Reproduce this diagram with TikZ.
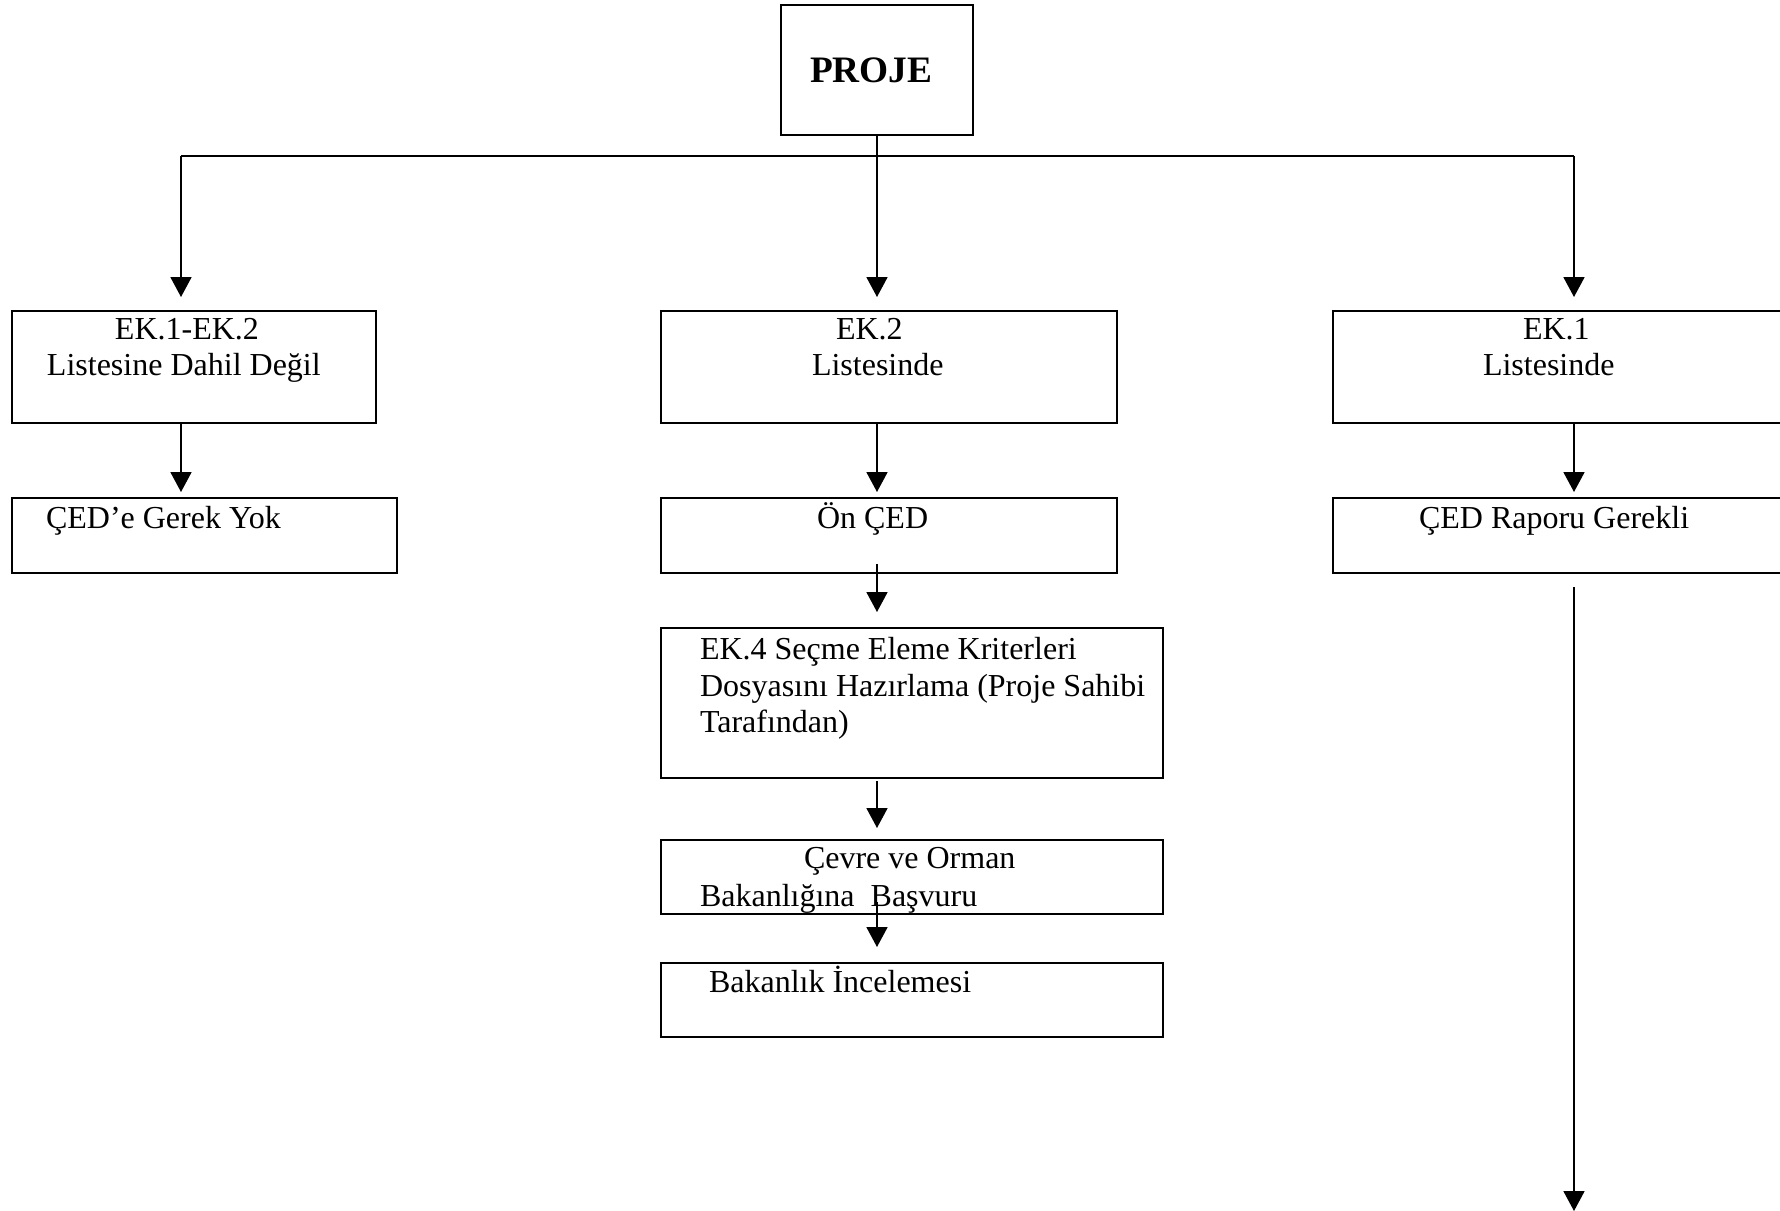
\documentclass[tikz,border=0pt]{standalone}
\usepackage{fontspec}
\setmainfont{Liberation Serif}
\usetikzlibrary{arrows.meta,fit}
\begin{document}
\begin{tikzpicture}[x=0.375pt,y=-0.375pt,
  box/.style={draw,line width=0.8pt,inner sep=0pt,outer sep=0pt},
  txt/.style={inner sep=0pt,outer sep=0pt,anchor=base west,font=\fontsize{12}{13.8}\selectfont},
  conn/.style={line width=0.6pt},
  arr/.style={line width=0.6pt,-{Triangle[width=7.9pt,length=7.5pt]}}]
\useasboundingbox (0,0) rectangle (1780,1211);
\clip (0,0) rectangle (1780,1211);
% boxes
\node[box,fit={(781,5) (973,135)}] (proje) {};
\node[box,fit={(12,311) (376,423)}] (l1) {};
\node[box,fit={(12,498) (397,573)}] (l2) {};
\node[box,fit={(661,311) (1117,423)}] (m1) {};
\node[box,fit={(661,498) (1117,573)}] (m2) {};
\node[box,fit={(661,628) (1163,778)}] (m3) {};
\node[box,fit={(661,840) (1163,914)}] (m4) {};
\node[box,fit={(661,963) (1163,1037)}] (m5) {};
\node[box,fit={(1333,311) (1795,423)}] (r1) {};
\node[box,fit={(1333,498) (1795,573)}] (r2) {};
% texts
\node[txt,font=\fontsize{14}{16}\selectfont\bfseries] (tproje) at (810,82) {PROJE};
\node[txt] (tl1a) at (115,339) {EK.1-EK.2};
\node[txt] (tl1b) at (47,375) {Listesine Dahil Değil};
\node[txt] (tl2) at (46,528) {ÇED’e Gerek Yok};
\node[txt] (tm1a) at (836,339) {EK.2};
\node[txt] (tm1b) at (812,375) {Listesinde};
\node[txt] (tm2) at (817,528) {Ön ÇED};
\node[txt] (tm3a) at (700,659) {EK.4 Seçme Eleme Kriterleri};
\node[txt] (tm3b) at (700,696) {Dosyasını Hazırlama (Proje Sahibi};
\node[txt] (tm3c) at (700,732) {Tarafından)};
\node[txt] (tm4a) at (804,868) {Çevre ve Orman};
\node[txt] (tm4b) at (700,906) {Bakanlığına\ \ Başvuru};
\node[txt] (tm5) at (709,992) {Bakanlık İncelemesi};
\node[txt] (tr1a) at (1523,339) {EK.1};
\node[txt] (tr1b) at (1483,375) {Listesinde};
\node[txt] (tr2) at (1419,528) {ÇED Raporu Gerekli};
% connector coordinates
\coordinate (cl) at (181,156);
\coordinate (cr) at (1574,156);
\coordinate (cm) at (877,156);
\coordinate (rend) at (1574,1211);
% connectors
\draw[conn] (cl) -- (cr);
\draw[arr,shorten >=5.25pt] (proje.south) -- (m1.north -| proje.south);
\draw[arr,shorten >=5.25pt] (cl) -- (l1.north -| cl);
\draw[arr,shorten >=5.25pt] (cr) -- (r1.north -| cr);
\draw[arr,shorten >=2.25pt] (l1.south -| cl) -- (l2.north -| cl);
\draw[arr,shorten >=2.25pt] (m1.south -| cm) -- (m2.north -| cm);
\draw[arr,shorten >=2.25pt] (r1.south -| cr) -- (r2.north -| cr);
\draw[arr,shorten <=-3.4pt,shorten >=6pt] (m2.south -| cm) -- (m3.north -| cm);
\draw[arr,shorten <=1.1pt,shorten >=4.5pt] (m3.south -| cm) -- (m4.north -| cm);
\draw[arr,shorten <=-4.5pt,shorten >=6pt] (m4.south -| cm) -- (m5.north -| cm);
\draw[arr,shorten <=5.25pt] (r2.south -| cr) -- (rend);
\end{tikzpicture}
\end{document}
